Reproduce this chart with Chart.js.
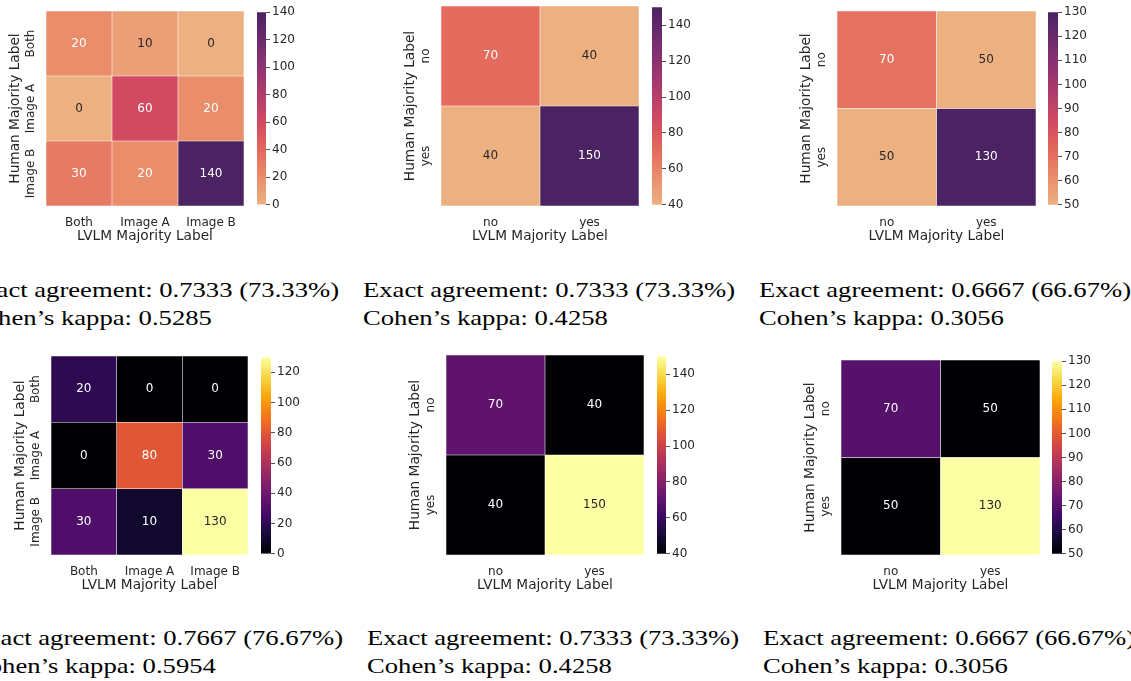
<!DOCTYPE html>
<html>
<head>
<meta charset="utf-8">
<script src="https://cdn.jsdelivr.net/npm/chart.js@4.4.1/dist/chart.umd.min.js"></script>
<style>
  body { margin: 0; background: #fff; }
  #fig { position: relative; width: 1131px; height: 681px; overflow: hidden; background: #fff; }
  #fig canvas { position: absolute; }
  .stat { position: absolute; font-family: 'Liberation Serif', serif; font-size: 21px; color: #000;
          white-space: nowrap; line-height: 28.5px; transform-origin: 0 0; }
</style>
</head>
<body>
<div id="fig"></div>
<script>
// ---- data ----
const labels3 = ['Both', 'Image A', 'Image B'];
const labels2 = ['no', 'yes'];

const counts1 = [[20, 10, 0], [0, 60, 20], [30, 20, 140]];
const counts2 = [[70, 40], [40, 150]];
const counts3 = [[70, 50], [50, 130]];
const counts4 = [[20, 0, 0], [0, 80, 30], [30, 10, 130]];
const counts5 = [[70, 40], [40, 150]];
const counts6 = [[70, 50], [50, 130]];

const cbTicks1 = [0, 20, 40, 60, 80, 100, 120, 140];
const cbTicks2 = [40, 60, 80, 100, 120, 140];
const cbTicks3 = [50, 60, 70, 80, 90, 100, 110, 120, 130];
const cbTicks4 = [0, 20, 40, 60, 80, 100, 120];
const cbTicks5 = [40, 60, 80, 100, 120, 140];
const cbTicks6 = [50, 60, 70, 80, 90, 100, 110, 120, 130];

const agreement = ['0.7333 (73.33%)', '0.7333 (73.33%)', '0.6667 (66.67%)',
                   '0.7667 (76.67%)', '0.7333 (73.33%)', '0.6667 (66.67%)'];
const kappa = ['0.5285', '0.4258', '0.3056', '0.5954', '0.4258', '0.3056'];

// ---- colour maps ----
const flareStops = [[237,176,129],[233,141,107],[227,104,92],[209,74,97],[177,60,108],[143,51,113],[108,43,109],[75,35,98]];
const infernoStops = [[0,0,4],[22,11,57],[66,10,104],[106,23,110],[147,38,103],[188,55,84],[221,81,58],[243,120,25],[252,165,10],[246,215,70],[252,255,164]];

function sample(stops, t) {
  t = Math.max(0, Math.min(1, t));
  const f = t * (stops.length - 1);
  const i = Math.min(Math.floor(f), stops.length - 2);
  const k = f - i;
  return stops[i].map((c, n) => Math.round(c + (stops[i + 1][n] - c) * k));
}
const rgb = a => `rgb(${a[0]},${a[1]},${a[2]})`;
function luminance(a) {
  const l = a.map(c => { c /= 255; return c <= 0.03928 ? c / 12.92 : Math.pow((c + 0.055) / 1.055, 2.4); });
  return 0.2126 * l[0] + 0.7152 * l[1] + 0.0722 * l[2];
}

const ink = '#262626';
const sans = "'DejaVu Sans', sans-serif";
const fig = document.getElementById('fig');

// cell numbers, drawn at each bar's centre
const cellText = {
  id: 'cellText',
  afterDatasetsDraw(chart) {
    const ctx = chart.ctx;
    ctx.save();
    ctx.font = '12px ' + sans;
    ctx.textAlign = 'center';
    ctx.textBaseline = 'middle';
    chart.data.datasets.forEach((ds, i) => {
      chart.getDatasetMeta(i).data.forEach((bar, j) => {
        ctx.fillStyle = luminance(ds.rgb[j]) > 0.408 ? ink : '#ffffff';
        ctx.fillText(String(ds.counts[j]), bar.x, (bar.y + bar.base) / 2);
      });
    });
    ctx.restore();
  }
};

// vertical row labels on the left of the heatmap
const rowTicks = {
  id: 'rowTicks',
  afterDraw(chart) {
    const ctx = chart.ctx;
    const labels = chart.options.rowLabels;
    const y = chart.scales.y;
    ctx.save();
    ctx.font = '12px ' + sans;
    ctx.fillStyle = ink;
    ctx.textAlign = 'center';
    ctx.textBaseline = 'middle';
    labels.forEach((lab, r) => {
      ctx.save();
      ctx.translate(chart.chartArea.left - 15, y.getPixelForValue(labels.length - r - 0.5));
      ctx.rotate(-Math.PI / 2);
      ctx.fillText(lab, 0, 0);
      ctx.restore();
    });
    ctx.restore();
  }
};

function addCanvas(left, top, w, h) {
  const c = document.createElement('canvas');
  c.width = w; c.height = h;
  c.style.left = left + 'px';
  c.style.top = top + 'px';
  fig.appendChild(c);
  return c;
}

function heatmap(p) {
  const rows = p.counts.length;
  const flat = p.counts.flat();
  const lo = Math.min(...flat), hi = Math.max(...flat);
  const datasets = p.counts.map(row => {
    const cols = row.map(v => sample(p.cmap, (v - lo) / (hi - lo)));
    return {
      data: row.map(() => 1),
      counts: row,
      rgb: cols,
      backgroundColor: cols.map(rgb),
      borderColor: 'rgba(255,255,255,0.12)',
      borderWidth: 0.6,
      borderSkipped: false,
      barPercentage: 1,
      categoryPercentage: 1
    };
  }).reverse();

  const c = addCanvas(p.x - 40, p.y - 6, p.w + 46, p.h + 46);
  new Chart(c, {
    type: 'bar',
    data: { labels: p.labels, datasets },
    options: {
      responsive: false,
      animation: false,
      rowLabels: p.labels,
      layout: { padding: { top: 6, right: 6, left: 0, bottom: 0 } },
      plugins: { legend: { display: false }, tooltip: { enabled: false } },
      scales: {
        x: {
          stacked: true,
          grid: { display: false, drawTicks: false },
          border: { display: false },
          ticks: { color: ink, font: { family: sans, size: 12 }, padding: 10, maxRotation: 0 },
          title: { display: true, text: 'LVLM Majority Label', color: ink,
                   font: { family: sans, size: 13.7 }, padding: { top: 0, bottom: 1 } },
          afterFit: s => { s.height = 40; }
        },
        y: {
          stacked: true, min: 0, max: rows,
          grid: { display: false, drawTicks: false },
          border: { display: false },
          ticks: { display: false },
          title: { display: true, text: 'Human Majority Label', color: ink,
                   font: { family: sans, size: 13.7 }, padding: { top: 0.8, bottom: 0 } },
          afterFit: s => { s.width = 40; }
        }
      }
    },
    plugins: [cellText, rowTicks]
  });

  // colour bar
  const cb = addCanvas(p.cbx, p.y - 8, p.cbw + 34, p.h + 16);
  new Chart(cb, {
    type: 'bar',
    data: {
      labels: [''],
      datasets: [{
        data: [[lo, hi]],
        backgroundColor: ctx => {
          const area = ctx.chart.chartArea;
          if (!area) return rgb(p.cmap[0]);
          const g = ctx.chart.ctx.createLinearGradient(0, area.bottom, 0, area.top);
          for (let i = 0; i <= 40; i++) g.addColorStop(i / 40, rgb(sample(p.cmap, i / 40)));
          return g;
        },
        borderWidth: 0,
        barPercentage: 1,
        categoryPercentage: 1
      }]
    },
    options: {
      responsive: false,
      animation: false,
      layout: { padding: { top: 8, bottom: 8, left: 0, right: 0 } },
      plugins: { legend: { display: false }, tooltip: { enabled: false } },
      scales: {
        x: { display: false },
        y: {
          position: 'right', min: lo, max: hi,
          afterBuildTicks: s => { s.ticks = p.cbTicks.map(v => ({ value: v })); },
          grid: { drawOnChartArea: false, drawTicks: true, tickLength: 4, color: ink, lineWidth: 0.8 },
          border: { display: false },
          ticks: { color: ink, font: { family: sans, size: 12 }, padding: 2 },
          afterFit: s => { s.width = 34; }
        }
      }
    }
  });
}

const panels = [
  { counts: counts1, labels: labels3, cmap: flareStops,   cbTicks: cbTicks1, x: 46,  y: 11,  w: 198, h: 195, cbx: 257,  cbw: 9 },
  { counts: counts2, labels: labels2, cmap: flareStops,   cbTicks: cbTicks2, x: 441, y: 6,   w: 198, h: 200, cbx: 652,  cbw: 10 },
  { counts: counts3, labels: labels2, cmap: flareStops,   cbTicks: cbTicks3, x: 837, y: 11,  w: 199, h: 195, cbx: 1048, cbw: 10 },
  { counts: counts4, labels: labels3, cmap: infernoStops, cbTicks: cbTicks4, x: 51,  y: 356, w: 197, h: 199, cbx: 261,  cbw: 10 },
  { counts: counts5, labels: labels2, cmap: infernoStops, cbTicks: cbTicks5, x: 446, y: 355, w: 198, h: 200, cbx: 657,  cbw: 9 },
  { counts: counts6, labels: labels2, cmap: infernoStops, cbTicks: cbTicks6, x: 841, y: 360, w: 199, h: 195, cbx: 1052, cbw: 10 }
];
panels.forEach(heatmap);

// statistics text under each panel
const statX = [-33, 363, 759, -29, 367, 763];
const statY = [275.6, 275.6, 275.6, 623.6, 623.6, 623.6];

const probe = document.createElement('canvas').getContext('2d');
probe.font = "21px 'Liberation Serif'";
const stretch = 372 / probe.measureText('Exact agreement: 0.7333 (73.33%)').width;

agreement.forEach((a, i) => {
  const d = document.createElement('div');
  d.className = 'stat';
  d.style.left = statX[i] + 'px';
  d.style.top = statY[i] + 'px';
  d.style.transform = `scaleX(${stretch.toFixed(4)})`;
  d.innerHTML = 'Exact agreement: ' + a + '<br>Cohen\u2019s kappa: ' + kappa[i];
  fig.appendChild(d);
});
</script>
</body>
</html>
